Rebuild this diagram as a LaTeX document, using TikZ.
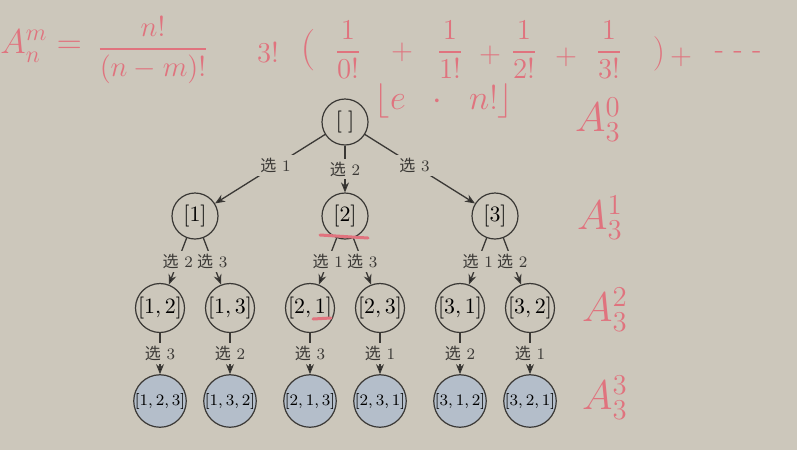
\documentclass[tikz,border=0pt,11pt]{standalone}
\usepackage{amsmath}
\usepackage{fontspec}
\usepackage{tikz}
\usetikzlibrary{positioning,arrows.meta}
\newfontfamily\cjkfont{Noto Sans CJK SC}
\definecolor{board}{HTML}{CCC7BB}
\definecolor{ink}{HTML}{3A3835}
\definecolor{leafblue}{HTML}{B4BECA}
\definecolor{marker}{HTML}{E0737E}
\newcommand{\pick}[1]{{\cjkfont 选}~$#1$}

\begin{document}
\begin{tikzpicture}[x=0.5pt,y=-0.5pt,node distance=46.5pt,on grid,
	perm/.style={circle,draw=ink,line width=0.6pt,minimum size=23pt,inner sep=0pt},
	leaf/.style={perm,fill=leafblue,font=\scriptsize},
	lbl/.style={fill=board,inner sep=1.5pt,font=\scriptsize,text=ink},
	arr/.style={draw=ink,line width=0.65pt,-{Stealth[length=5pt,width=4pt]}},
	note/.style={text=marker,inner sep=0pt,font=\Large}]
	\fill[board] (0,0) rectangle (797,450);
	\useasboundingbox (0,0) rectangle (797,450);

	% the tree
	\node[perm] (r) at (345,122) {$[\;]$};
	\node[perm] (a1) [below left=47pt and 75pt of r] {$[1]$};
	\node[perm] (a2) [below=47pt of r] {$[2]$};
	\node[perm] (a3) [below right=47pt and 75pt of r] {$[3]$};

	\node[perm] (b12) [below left=46pt and 17.5pt of a1] {$[1,2]$};
	\node[perm] (b13) [below right=46pt and 17.5pt of a1] {$[1,3]$};
	\node[perm] (b21) [below left=46pt and 17.5pt of a2] {$[2,1]$};
	\node[perm] (b23) [below right=46pt and 17.5pt of a2] {$[2,3]$};
	\node[perm] (b31) [below left=46pt and 17.5pt of a3] {$[3,1]$};
	\node[perm] (b32) [below right=46pt and 17.5pt of a3] {$[3,2]$};

	\node[leaf] (c123) [below=of b12] {$[1,2,3]$};
	\node[leaf] (c132) [below=of b13] {$[1,3,2]$};
	\node[leaf] (c213) [below=of b21] {$[2,1,3]$};
	\node[leaf] (c231) [below=of b23] {$[2,3,1]$};
	\node[leaf] (c312) [below=of b31] {$[3,1,2]$};
	\node[leaf] (c321) [below=of b32] {$[3,2,1]$};

	\path[arr]
	(r) edge node[lbl,pos=0.45] {\pick 1} (a1)
	    edge node[lbl] {\pick 2} (a2)
	    edge node[lbl,pos=0.45] {\pick 3} (a3)
	(a1) edge node[lbl] {\pick 2} (b12)
	     edge node[lbl] {\pick 3} (b13)
	(a2) edge node[lbl] {\pick 1} (b21)
	     edge node[lbl] {\pick 3} (b23)
	(a3) edge node[lbl] {\pick 1} (b31)
	     edge node[lbl] {\pick 2} (b32)
	(b12) edge node[lbl] {\pick 3} (c123)
	(b13) edge node[lbl] {\pick 2} (c132)
	(b21) edge node[lbl] {\pick 3} (c213)
	(b23) edge node[lbl] {\pick 1} (c231)
	(b31) edge node[lbl] {\pick 2} (c312)
	(b32) edge node[lbl] {\pick 1} (c321);

	% handwritten notes
	\node[note,font=\LARGE,anchor=west] (arrange) at (0,46) {$A_n^m =$};
	\node[note] (ratio) at (153,50) {$\dfrac{n!}{(n-m)!}$};
	\node[note] (fac) at (268,52) {$3!$};
	\node[note,font=\huge] (lpar) at (308,50) {$($};
	\node[note] (f0) at (348,50) {$\dfrac{1}{0!}$};
	\node[note] (plus1) at (402,52) {$+$};
	\node[note] (f1) at (450,50) {$\dfrac{1}{1!}$};
	\node[note] (plus2) at (490,55) {$+$};
	\node[note] (f2) at (524,50) {$\dfrac{1}{2!}$};
	\node[note] (plus3) at (566,57) {$+$};
	\node[note] (f3) at (609,50) {$\dfrac{1}{3!}$};
	\node[note,font=\LARGE] (rpar) at (659,54) {$)$};
	\node[note] (plus4) at (681,57) {$+$};
	\node[note] (dots) at (738,55) {- - -};
	\node[note,font=\LARGE] (floor) at (444,101) {$\lfloor e\;\;\cdot\;\;n!\rfloor$};

	\node[note,font=\huge] (lvl0) at (598,120) {$A_3^0$};
	\node[note,font=\huge] (lvl1) at (600,218) {$A_3^1$};
	\node[note,font=\huge] (lvl2) at (605,310) {$A_3^2$};
	\node[note,font=\huge] (lvl3) at (605,398) {$A_3^3$};

	\draw[marker,line width=1.5pt,line cap=round] (320,235) -- (368,238);
	\draw[marker,line width=1.5pt,line cap=round] (313,319) -- (331,318);
\end{tikzpicture}
\end{document}
